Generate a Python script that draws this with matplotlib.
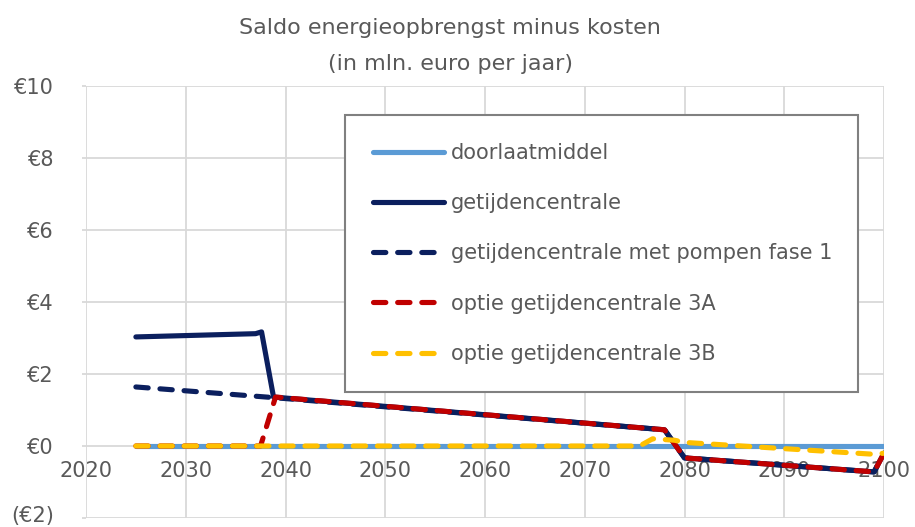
import matplotlib
matplotlib.use('Agg')
from matplotlib import pyplot as plt
from matplotlib import transforms

plt.rcParams['font.family'] = ['DejaVu Sans']

TEXT_COLOR = '#595959'
GRID_COLOR = '#d9d9d9'

# breakpoints (year, mln euro per year)
years_doorlaat = [2025, 2100]
vals_doorlaat = [0.0, 0.0]

years_centrale = [2025, 2037, 2037.6, 2038.8, 2078, 2080, 2099, 2100]
vals_centrale = [3.03, 3.12, 3.17, 1.36, 0.45, -0.33, -0.72, -0.2]

years_pompen = [2025, 2039, 2078, 2080, 2099, 2100]
vals_pompen = [1.64, 1.34, 0.45, -0.33, -0.72, -0.2]

years_3a = [2025, 2037.5, 2039, 2078, 2080, 2099, 2100]
vals_3a = [0.0, 0.0, 1.36, 0.45, -0.33, -0.72, -0.2]

years_3b = [2025, 2075.5, 2076.8, 2079, 2080, 2099, 2100]
vals_3b = [0.0, 0.0, 0.2, 0.16, 0.1, -0.23, -0.2]

labels = [
    'doorlaatmiddel',
    'getijdencentrale',
    'getijdencentrale met pompen fase 1',
    'optie getijdencentrale 3A',
    'optie getijdencentrale 3B',
]

y_ticks = [-2, 0, 2, 4, 6, 8, 10]
y_ticklabels = ['(€2)', '€0', '€2', '€4', '€6', '€8', '€10']
x_ticks = [2020, 2030, 2040, 2050, 2060, 2070, 2080, 2090, 2100]

fig = plt.figure(figsize=(9.15, 5.27), dpi=100)
ax = fig.add_axes([86 / 915, 1 - 518 / 527, 798 / 915, 432 / 527])

lw = 3.7
dash = (2.4, 2.3)
ax.plot(years_doorlaat, vals_doorlaat, color='#5b9bd5', lw=lw,
        solid_capstyle='round', label=labels[0], zorder=3)
ax.plot(years_centrale, vals_centrale, color='#0b1f5e', lw=lw,
        solid_capstyle='round', solid_joinstyle='round', label=labels[1], zorder=4)
ax.plot(years_pompen, vals_pompen, color='#0b1f5e', lw=lw, dashes=dash,
        dash_capstyle='round', label=labels[2], zorder=5)
ax.plot(years_3a, vals_3a, color='#c00000', lw=lw, dashes=dash,
        dash_capstyle='round', label=labels[3], zorder=6)
ax.plot(years_3b, vals_3b, color='#ffc000', lw=lw, dashes=dash,
        dash_capstyle='round', label=labels[4], zorder=7)

ax.set_xlim(2020, 2100)
ax.set_ylim(-2, 10)
ax.set_yticks(y_ticks)
ax.set_yticklabels(y_ticklabels)
ax.set_xticks(x_ticks)

for s in ax.spines.values():
    s.set_visible(False)
ax.spines['bottom'].set_position(('data', 0))
ax.grid(True, color=GRID_COLOR, lw=1.3)
ax.set_axisbelow(True)
ax.tick_params(axis='x', length=0, pad=11, labelsize=15, labelcolor=TEXT_COLOR)
ax.tick_params(axis='y', length=3, width=1.3, color=GRID_COLOR, pad=20,
               labelsize=15, labelcolor=TEXT_COLOR)

# lift the lowest y label a little so it stays inside the picture
low = ax.get_yticklabels()[0]
low.set_transform(low.get_transform() +
                  transforms.ScaledTranslation(0, 4 / 100, fig.dpi_scale_trans))

fig.text(0.492, 1 - 28 / 527, 'Saldo energieopbrengst minus kosten',
         ha='center', va='center', fontsize=16, color=TEXT_COLOR)
fig.text(0.492, 1 - 64 / 527, '(in mln. euro per jaar)',
         ha='center', va='center', fontsize=16, color=TEXT_COLOR)

leg = ax.legend(loc='upper left',
                bbox_to_anchor=(0.3246, 0.2986, 0.6428, 0.6344),
                mode='expand', borderaxespad=0, fontsize=15, handlelength=3.4,
                handletextpad=0.35, labelspacing=1.45, borderpad=1.35,
                fancybox=False, framealpha=1, edgecolor='#808080',
                labelcolor=TEXT_COLOR)
leg.get_frame().set_linewidth(1.5)

fig.savefig('out.png', dpi=100)
